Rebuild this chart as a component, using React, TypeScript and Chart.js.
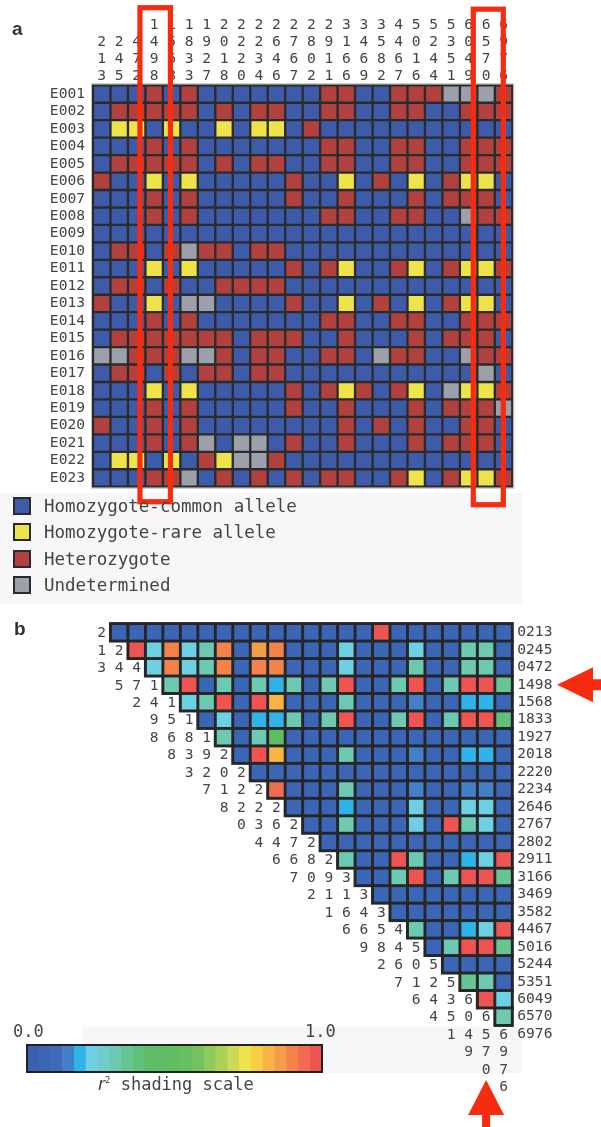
import React, { useEffect, useRef } from 'react';
import { Chart, registerables } from 'chart.js';

Chart.register(...registerables);

const MONO = '"DejaVu Sans Mono", monospace';
const TEXT = '#444444';
const RED_MARK = '#f62c10';

// ---------- data ----------
const SNP_LABELS = ['0213', '0245', '0472', '1498', '1568', '1833', '1927', '2018', '2220', '2234', '2646', '2767',
  '2802', '2911', '3166', '3469', '3582', '4467', '5016', '5244', '5351', '6049', '6570', '6976'];

const SAMPLE_LABELS = ['E001', 'E002', 'E003', 'E004', 'E005', 'E006', 'E007', 'E008', 'E009', 'E010', 'E011', 'E012',
  'E013', 'E014', 'E015', 'E016', 'E017', 'E018', 'E019', 'E020', 'E021', 'E022', 'E023'];

const GENOTYPE_NAMES = ['Homozygote-common allele', 'Homozygote-rare allele', 'Heterozygote', 'Undetermined'];
const GENOTYPE_CODES = ['B', 'Y', 'R', 'G'];
const GENOTYPE_COLORS = ['#3d5ba8', '#efe34b', '#b0413f', '#9ba0ab'];

// one string per sample, one code per SNP column
const GENOTYPES = [
  'BBBRBRBBBBBBBRRBBRRRGGGR', // E001
  'BRRRRRBRBRRBBRRBBRRBBRRR', // E002
  'BYYBYBBYBYYBRBBBBBBBBBBB', // E003
  'BBBRBRBBBBBBBRRBBRRBBRRR', // E004
  'BRRRRRBRBRRBBRRBBRRBBRRR', // E005
  'RBBYBYBBBBBRBBYBRBYBRYYB', // E006
  'BBBRBRBBBBBRBBRBBBRBRRRB', // E007
  'BBBRBRBBBBBBBRRBBRRBBGRR', // E008
  'BBBBBBBBBBBBBBBBBBBBBBBB', // E009
  'BRRBRGRRBRRBBBBBBBBBBBBB', // E010
  'BBBYBYBBBBBRBRYBBRYBRYYR', // E011
  'BRRBRBBRRRRBBBBBBBBBBBBB', // E012
  'RBBYBGGBBBBRBBYBRBYBRYYB', // E013
  'BBBRBRBBBBBBBRRBBRRBBRRR', // E014
  'BRRRRRRRBRRRBBRBBBRBRRRB', // E015
  'GGRRRGGRBRRBBRRBGRRBBGRR', // E016
  'BRRBRBRRBRRBBBBBBBBBBBGB', // E017
  'BBBYBYBBBBBRBRYRBRYBGYYR', // E018
  'BBBRBRBBBBBRBBRBBBRBRRRG', // E019
  'RBBRBRBBBBBBBBRBRBRBBRRB', // E020
  'BBBRBRGBGGBRBBRBBBRBRRRB', // E021
  'BYYBYBRYGGRBBBBBBBBBBBBB', // E022
  'BBBRRGBRBRBRBRRBBRYBRYYR', // E023
];

// r^2 values, row i lists columns i+1 .. 23
const LD_R2 = [
  [.05, .05, .05, .05, .05, .05, .05, .05, .05, .05, .05, .05, .05, .05, .05, .98, .05, .05, .05, .05, .05, .05, .05],
  [.98, .22, .90, .22, .30, .90, .05, .86, .90, .05, .05, .05, .22, .05, .05, .05, .22, .05, .05, .30, .30, .05],
  [.22, .90, .22, .30, .90, .05, .90, .90, .05, .05, .05, .22, .05, .05, .05, .28, .05, .05, .30, .30, .05],
  [.30, .98, .05, .30, .05, .30, .18, .30, .05, .30, .98, .05, .05, .30, .98, .05, .30, .98, .98, .34],
  [.22, .30, .98, .05, .98, .82, .05, .05, .05, .30, .05, .05, .05, .13, .05, .05, .18, .18, .05],
  [.05, .22, .05, .18, .18, .30, .05, .30, .98, .05, .05, .30, .98, .05, .30, .98, .98, .36],
  [.30, .05, .30, .45, .05, .05, .05, .05, .05, .05, .05, .05, .05, .05, .05, .05, .05],
  [.05, .98, .82, .05, .05, .05, .30, .05, .05, .05, .13, .05, .05, .18, .18, .05],
  [.05, .05, .05, .05, .05, .05, .05, .05, .05, .05, .05, .05, .05, .05, .05],
  [.93, .05, .05, .05, .30, .05, .05, .05, .13, .05, .05, .13, .13, .05],
  [.05, .05, .05, .18, .05, .05, .05, .22, .05, .05, .22, .22, .05],
  [.05, .05, .30, .05, .05, .05, .22, .05, .98, .30, .22, .05],
  [.05, .05, .05, .05, .05, .05, .05, .05, .05, .05, .05],
  [.30, .05, .05, .98, .30, .05, .05, .18, .22, .98],
  [.05, .05, .30, .98, .05, .30, .98, .98, .34],
  [.05, .05, .05, .05, .05, .05, .05, .05],
  [.05, .05, .05, .05, .05, .05, .05],
  [.30, .05, .05, .18, .22, .98],
  [.05, .30, .98, .98, .34],
  [.05, .05, .05, .05],
  [.34, .30, .05],
  [.98, .22],
  [.30],
];

const R2_SCALE_COLORS = ['#3a60ae', '#3a66b5', '#3d6bb8', '#4380c8', '#2fb3e8', '#6ed0e3', '#71cdcc', '#6dc9b2',
  '#66c592', '#61c07a', '#5ebd6a', '#5ebd66', '#61be63', '#66bf60', '#74c25e', '#8ec95b', '#acd158', '#cddb54',
  '#ede54c', '#f6cf46', '#f7b545', '#f59c47', '#f3834b', '#f06b4f', '#ee5552'];
const R2_SCALE_TICKS = ['0.0', '1.0'];
const R2_SCALE_TITLE = 'shading scale';

const HIGHLIGHT_SNPS = ['1498', '6570'];

function r2Color(v: number) {
  const n = R2_SCALE_COLORS.length;
  return R2_SCALE_COLORS[Math.max(0, Math.min(n - 1, Math.floor(v * n)))];
}

const TICK_FONT = { family: MONO, size: 14.6, lineHeight: '17px' };

function fixedTicks(labels: string[]) {
  return (scale: any) => {
    scale.ticks = labels.map((_, i) => ({ value: i }));
  };
}

// ---------- panel a ----------
function GenotypeChart() {
  const ref = useRef<HTMLCanvasElement>(null);
  useEffect(() => {
    const datasets = GENOTYPE_NAMES.map((name, k) => {
      const pts: { x: number; y: number }[] = [];
      GENOTYPES.forEach((row, r) => {
        row.split('').forEach((c, col) => {
          if (c === GENOTYPE_CODES[k]) pts.push({ x: col, y: r });
        });
      });
      return {
        label: name,
        data: pts,
        pointStyle: 'rect',
        pointRadius: 10.7,
        pointHoverRadius: 10.7,
        pointBackgroundColor: GENOTYPE_COLORS[k],
        pointBorderWidth: 0,
        pointHoverBorderWidth: 0,
      };
    });

    const gridBg = {
      id: 'gridBg',
      beforeDatasetsDraw(chart: any) {
        const { ctx, chartArea: a } = chart;
        ctx.save();
        ctx.fillStyle = '#2b2b2b';
        ctx.fillRect(a.left - 1, a.top - 1, a.right - a.left + 2, a.bottom - a.top + 2);
        ctx.strokeStyle = '#bdbdbd';
        ctx.lineWidth = 1;
        ctx.strokeRect(a.left - 1.5, a.top - 1.5, a.right - a.left + 3, a.bottom - a.top + 3);
        ctx.restore();
      },
    };

    const boxes = {
      id: 'highlightBoxes',
      afterDraw(chart: any) {
        const { ctx, chartArea: a } = chart;
        const xs = chart.scales.x;
        const spec = [
          { l: -14.2, r: 16.3, t: 7.7, b: 15 },
          { l: -12.8, r: 17.2, t: 9.2, b: 18 },
        ];
        ctx.save();
        ctx.strokeStyle = RED_MARK;
        ctx.lineWidth = 5.2;
        HIGHLIGHT_SNPS.forEach((snp, k) => {
          const cx = xs.getPixelForValue(SNP_LABELS.indexOf(snp));
          const s = spec[k];
          ctx.strokeRect(cx + s.l, s.t, s.r - s.l, a.bottom + s.b - s.t);
        });
        ctx.restore();
      },
    };

    const chart = new Chart(ref.current as HTMLCanvasElement, {
      type: 'scatter',
      data: { datasets } as any,
      options: {
        responsive: false,
        animation: false,
        events: [],
        layout: { padding: { left: 0, top: 0, right: 88.7, bottom: 113.3 } },
        plugins: { legend: { display: false }, tooltip: { enabled: false } },
        scales: {
          x: {
            type: 'linear',
            position: 'top',
            min: -0.5,
            max: 23.5,
            grid: { display: false, drawTicks: false, tickLength: 0 },
            border: { display: false },
            afterBuildTicks: fixedTicks(SNP_LABELS),
            afterFit: (s: any) => { s.height = 85.3; },
            ticks: {
              autoSkip: false,
              maxRotation: 0,
              minRotation: 0,
              padding: 1,
              color: TEXT,
              font: TICK_FONT,
              callback: (v: any) => SNP_LABELS[v].replace(/^0/, '').split(''),
            },
          },
          y: {
            type: 'linear',
            position: 'left',
            reverse: true,
            min: -0.5,
            max: 22.5,
            grid: { display: false, drawTicks: false, tickLength: 0 },
            border: { display: false },
            afterBuildTicks: fixedTicks(SAMPLE_LABELS),
            afterFit: (s: any) => { s.width = 93; },
            ticks: {
              autoSkip: false,
              padding: 8,
              color: TEXT,
              font: TICK_FONT,
              callback: (v: any) => SAMPLE_LABELS[v],
            },
          },
        },
      } as any,
      plugins: [gridBg, boxes],
    });
    return () => chart.destroy();
  }, []);
  return (
    <canvas ref={ref} width={601} height={600}
      style={{ position: 'absolute', left: 0, top: 0, width: 601, height: 600, display: 'block' }} />
  );
}

// ---------- panel b ----------
function LdChart() {
  const ref = useRef<HTMLCanvasElement>(null);
  useEffect(() => {
    const pts: { x: number; y: number; v: number }[] = [];
    LD_R2.forEach((row, i) => {
      row.forEach((v, k) => pts.push({ x: i + 1 + k, y: i, v }));
    });

    const stair = {
      id: 'stairBg',
      beforeDatasetsDraw(chart: any) {
        const { ctx } = chart;
        const xs = chart.scales.x;
        const ys = chart.scales.y;
        const half = (xs.getPixelForValue(1) - xs.getPixelForValue(0)) / 2;
        const right = xs.getPixelForValue(SNP_LABELS.length - 1) + half;
        ctx.save();
        ctx.fillStyle = '#262626';
        LD_R2.forEach((_, i) => {
          const x0 = xs.getPixelForValue(i + 1) - half - 1.5;
          const yc = ys.getPixelForValue(i);
          ctx.fillRect(x0, yc - half - 1.5, right + 1.5 - x0, 2 * half + 3);
        });
        ctx.restore();
      },
    };

    const diag = {
      id: 'diagLabels',
      afterDraw(chart: any) {
        const { ctx } = chart;
        const xs = chart.scales.x;
        const ys = chart.scales.y;
        ctx.save();
        ctx.font = `14.6px ${MONO}`;
        ctx.fillStyle = TEXT;
        ctx.textAlign = 'center';
        ctx.textBaseline = 'middle';
        SNP_LABELS.forEach((lab, j) => {
          lab.replace(/^0/, '').split('').forEach((d, k) => {
            ctx.fillText(d, xs.getPixelForValue(j), ys.getPixelForValue(j + k) + 1);
          });
        });

        // arrows
        ctx.fillStyle = RED_MARK;
        const ay = ys.getPixelForValue(SNP_LABELS.indexOf(HIGHLIGHT_SNPS[0]));
        ctx.beginPath();
        ctx.moveTo(557, ay);
        ctx.lineTo(593, ay - 17.5);
        ctx.lineTo(593, ay - 5.5);
        ctx.lineTo(601, ay - 5.5);
        ctx.lineTo(601, ay + 5.5);
        ctx.lineTo(593, ay + 5.5);
        ctx.lineTo(593, ay + 17.5);
        ctx.closePath();
        ctx.fill();

        const ax = xs.getPixelForValue(SNP_LABELS.indexOf(HIGHLIGHT_SNPS[1]));
        const H = chart.height;
        ctx.beginPath();
        ctx.moveTo(ax, H - 47);
        ctx.lineTo(ax + 18, H - 12);
        ctx.lineTo(ax + 4, H - 12);
        ctx.lineTo(ax + 4, H);
        ctx.lineTo(ax - 4, H);
        ctx.lineTo(ax - 4, H - 12);
        ctx.lineTo(ax - 18, H - 12);
        ctx.closePath();
        ctx.fill();
        ctx.restore();
      },
    };

    const chart = new Chart(ref.current as HTMLCanvasElement, {
      type: 'scatter',
      data: {
        datasets: [{
          label: 'r2',
          data: pts,
          pointStyle: 'rect',
          pointRadius: 10.3,
          pointHoverRadius: 10.3,
          pointBorderWidth: 0,
          pointHoverBorderWidth: 0,
          pointBackgroundColor: (c: any) => r2Color(c.raw ? c.raw.v : 0),
        }],
      } as any,
      options: {
        responsive: false,
        animation: false,
        events: [],
        clip: false,
        layout: { padding: { left: 93, top: 23.6, right: 0, bottom: 84.1 } },
        plugins: { legend: { display: false }, tooltip: { enabled: false } },
        scales: {
          x: { type: 'linear', display: false, min: -0.5, max: 23.5 },
          y: {
            type: 'linear',
            position: 'right',
            reverse: true,
            min: -0.5,
            max: 23.5,
            grid: { display: false, drawTicks: false, tickLength: 0 },
            border: { display: false },
            afterBuildTicks: fixedTicks(SNP_LABELS),
            afterFit: (s: any) => { s.width = 88.7; },
            ticks: {
              autoSkip: false,
              padding: 5,
              color: TEXT,
              font: TICK_FONT,
              callback: (v: any) => SNP_LABELS[v],
            },
          },
        },
      } as any,
      plugins: [stair, diag],
    });
    return () => chart.destroy();
  }, []);
  return (
    <canvas ref={ref} width={601} height={527}
      style={{ position: 'absolute', left: 0, top: 600, width: 601, height: 527, display: 'block' }} />
  );
}

// ---------- r2 shading scale ----------
function ScaleBar() {
  const ref = useRef<HTMLCanvasElement>(null);
  useEffect(() => {
    const frame = {
      id: 'frame',
      afterDraw(chart: any) {
        const { ctx, chartArea: a } = chart;
        ctx.save();
        ctx.strokeStyle = '#222';
        ctx.lineWidth = 2;
        ctx.strokeRect(a.left, a.top, a.right - a.left, a.bottom - a.top);
        ctx.restore();
      },
    };
    const chart = new Chart(ref.current as HTMLCanvasElement, {
      type: 'bar',
      data: {
        labels: R2_SCALE_COLORS.map((_, i) => String(i)),
        datasets: [{
          data: R2_SCALE_COLORS.map(() => 1),
          backgroundColor: R2_SCALE_COLORS,
          borderWidth: 0,
          barPercentage: 1,
          categoryPercentage: 1,
        }],
      },
      options: {
        responsive: false,
        animation: false,
        events: [],
        layout: { padding: 2 },
        plugins: { legend: { display: false }, tooltip: { enabled: false } },
        scales: {
          x: { display: false },
          y: { display: false, min: 0, max: 1 },
        },
      } as any,
      plugins: [frame],
    });
    return () => chart.destroy();
  }, []);
  return (
    <canvas ref={ref} width={299} height={31}
      style={{ position: 'absolute', left: 25, top: 1043, width: 299, height: 31, display: 'block' }} />
  );
}

export default function App() {
  const legendTop = 496;
  const legendStep = 26.3;
  return (
    <div style={{
      position: 'absolute', left: 0, top: 0, width: 601, height: 1127, background: '#ffffff',
      overflow: 'hidden', fontFamily: MONO, color: TEXT,
    }}>
      <div style={{ position: 'absolute', left: 0, top: 493, width: 522, height: 111, background: '#f7f7f9' }} />
      <div style={{ position: 'absolute', left: 83, top: 1027, width: 439, height: 46, background: '#f7f7f9' }} />

      <GenotypeChart />
      <LdChart />
      <ScaleBar />

      <div style={{
        position: 'absolute', left: 12, top: 19, fontFamily: '"Liberation Sans", Arial, sans-serif',
        fontWeight: 'bold', fontSize: 19, lineHeight: '19px', color: '#333',
      }}>a</div>
      <div style={{
        position: 'absolute', left: 14, top: 619, fontFamily: '"Liberation Sans", Arial, sans-serif',
        fontWeight: 'bold', fontSize: 19, lineHeight: '19px', color: '#333',
      }}>b</div>

      {GENOTYPE_NAMES.map((name, k) => (
        <div key={name} style={{
          position: 'absolute', left: 13, top: legendTop + k * legendStep, height: 20,
          display: 'flex', alignItems: 'center', whiteSpace: 'nowrap',
        }}>
          <div style={{
            width: 18, height: 18, boxSizing: 'border-box', border: '2px solid #2a2a2a',
            background: GENOTYPE_COLORS[k],
          }} />
          <span style={{ marginLeft: 13, fontSize: 17.5, lineHeight: '20px' }}>{name}</span>
        </div>
      ))}

      <div style={{ position: 'absolute', left: 13, top: 1021, fontSize: 17, lineHeight: '20px' }}>{R2_SCALE_TICKS[0]}</div>
      <div style={{ position: 'absolute', left: 305, top: 1021, fontSize: 17, lineHeight: '20px' }}>{R2_SCALE_TICKS[1]}</div>
      <div style={{ position: 'absolute', left: 98, top: 1074, fontSize: 17, lineHeight: '20px', whiteSpace: 'nowrap' }}>
        <span style={{ fontFamily: '"DejaVu Sans", sans-serif', fontStyle: 'italic' }}>r</span>
        <sup style={{ fontSize: 9, verticalAlign: 'top', lineHeight: '12px' }}>2</sup>
        <span> {R2_SCALE_TITLE}</span>
      </div>
    </div>
  );
}
